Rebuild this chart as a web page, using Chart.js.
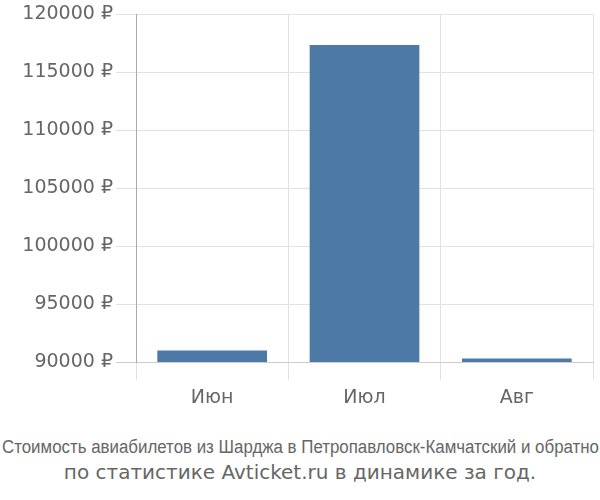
<!DOCTYPE html>
<html>
<head>
<meta charset="utf-8">
<script src="https://cdn.jsdelivr.net/npm/chart.js@4/dist/chart.umd.min.js"></script>
<style>
  body { margin: 0; background: #fff; }
  #wrap { position: relative; width: 600px; height: 420px; }
  .cap { width: 600px; text-align: center; color: #666; white-space: nowrap; }
  #cap1 { position: relative; font: 18px "Liberation Sans", sans-serif; margin-top: 17px; height: 21px; }
  #cap1 span { position: absolute; left: 2px; top: 0; transform-origin: 0 0; }
  #cap2 { font: 20px "DejaVu Sans", sans-serif; margin-top: 2px; }
</style>
</head>
<body>
<div id="wrap"><canvas id="c"></canvas></div>
<div class="cap" id="cap1"><span>Стоимость авиабилетов из Шарджа в Петропавловск-Камчатский и обратно</span></div>
<div class="cap" id="cap2">по статистике Avticket.ru в динамике за год.</div>
<script>
const months = ['Июн', 'Июл', 'Авг'];
const prices = [91000, 117350, 90300];
const yTicks = [90000, 95000, 100000, 105000, 110000, 115000, 120000];

const tickFont = { family: 'DejaVu Sans', size: 19 };

// squeeze the first caption line into 597px like the condensed original
const cap1 = document.querySelector('#cap1 span');
const w = cap1.getBoundingClientRect().width;
cap1.style.transform = 'scaleX(' + (597 / w) + ')';

const ctx = document.getElementById('c');
const chart = new Chart(ctx, {
  type: 'bar',
  data: {
    labels: months,
    datasets: [{
      data: prices,
      backgroundColor: '#4d79a7',
      barPercentage: 0.72,
      categoryPercentage: 1
    }]
  },
  options: {
    responsive: true,
    maintainAspectRatio: false,
    animation: false,
    layout: { padding: { top: 4, right: 7, left: 0, bottom: 0 } },
    plugins: { legend: { display: false }, tooltip: { enabled: false } },
    scales: {
      x: {
        grid: { color: '#e2e2e2', tickLength: 18, offset: true },
        border: { color: '#cccccc' },
        ticks: { color: '#666', font: tickFont, padding: 7 },
        afterFit: (s) => { s.height = 58; }
      },
      y: {
        min: yTicks[0],
        max: yTicks[yTicks.length - 1],
        grid: { color: (c) => c.tick && c.tick.value === yTicks[0] ? '#cccccc' : '#e2e2e2', tickLength: 20 },
        border: { color: '#aaaaaa' },
        ticks: {
          stepSize: 5000,
          color: '#666',
          font: tickFont,
          padding: 3,
          callback: (v) => v + ' ₽'
        },
        afterFit: (s) => { s.width = 136; }
      }
    }
  }
});
</script>
</body>
</html>
